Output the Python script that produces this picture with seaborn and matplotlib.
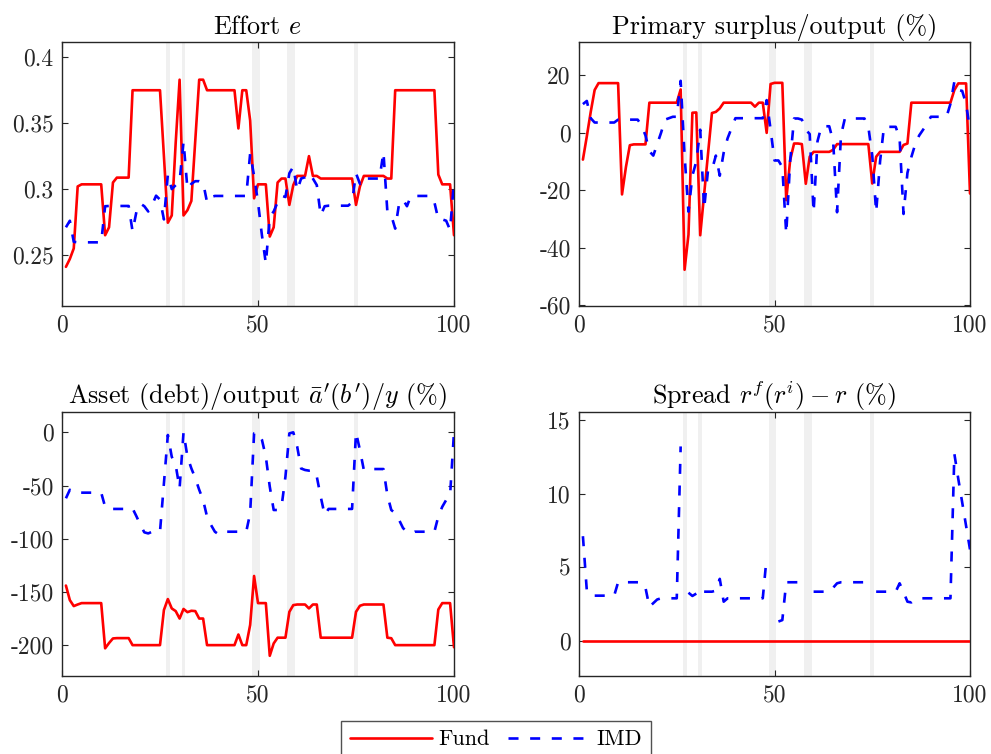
import numpy as np
import pandas as pd
import matplotlib
matplotlib.use("Agg")
import matplotlib.pyplot as plt
import seaborn as sns
from matplotlib.lines import Line2D
from matplotlib.ticker import FuncFormatter

# ---------------- data ----------------
periods = list(range(1, 101))

effort_fund = [0.241, 0.247, 0.255, 0.302, 0.3036, 0.3036, 0.3036, 0.3036, 0.3036, 0.3036,
               0.265, 0.271, 0.305, 0.3087, 0.3087, 0.3087, 0.3087, 0.375, 0.375, 0.375,
               0.375, 0.375, 0.375, 0.375, 0.375, 0.325, 0.2745, 0.280, 0.335, 0.383,
               0.280, 0.284, 0.291, 0.337, 0.383, 0.383, 0.375, 0.375, 0.375, 0.375,
               0.375, 0.375, 0.375, 0.375, 0.346, 0.375, 0.375, 0.352, 0.293, 0.3036,
               0.3036, 0.3036, 0.264, 0.271, 0.305, 0.308, 0.308, 0.288, 0.303, 0.310,
               0.310, 0.310, 0.325, 0.310, 0.310, 0.308, 0.308, 0.308, 0.308, 0.308,
               0.308, 0.308, 0.308, 0.308, 0.288, 0.302, 0.310, 0.310, 0.310, 0.310,
               0.310, 0.310, 0.308, 0.308, 0.375, 0.375, 0.375, 0.375, 0.375, 0.375,
               0.375, 0.375, 0.375, 0.375, 0.375, 0.311, 0.3036, 0.3036, 0.3036, 0.265]

effort_imd = [0.271, 0.276, 0.260, 0.2596, 0.2596, 0.2596, 0.2596, 0.2596, 0.2596, 0.2596,
              0.287, 0.2872, 0.2872, 0.2872, 0.2872, 0.2872, 0.2872, 0.268, 0.283, 0.289,
              0.287, 0.283, 0.288, 0.295, 0.292, 0.277, 0.311, 0.300, 0.303, 0.306,
              0.336, 0.300, 0.304, 0.306, 0.306, 0.305, 0.290, 0.294, 0.2948, 0.2948,
              0.2948, 0.2948, 0.2948, 0.2948, 0.2948, 0.2948, 0.2948, 0.327, 0.310, 0.290,
              0.265, 0.2435, 0.279, 0.283, 0.290, 0.295, 0.294, 0.312, 0.317, 0.299,
              0.308, 0.309, 0.312, 0.308, 0.303, 0.280, 0.287, 0.2874, 0.2874, 0.2874,
              0.2874, 0.2874, 0.2874, 0.290, 0.312, 0.304, 0.309, 0.308, 0.308, 0.308,
              0.308, 0.328, 0.283, 0.280, 0.270, 0.289, 0.292, 0.287, 0.2948, 0.2948,
              0.2948, 0.2948, 0.2948, 0.2948, 0.290, 0.277, 0.277, 0.276, 0.269, 0.306]

surplus_fund = [-9.4, -1.3, 7.2, 14.8, 17.2, 17.2, 17.2, 17.2, 17.2, 17.2,
                -21.5, -12.0, -4.4, -4.1, -4.1, -4.1, -4.1, 10.4, 10.4, 10.4,
                10.4, 10.4, 10.4, 10.4, 10.4, 15.0, -47.7, -35.5, 6.9, 7.0,
                -35.7, -21.5, -7.3, 6.8, 7.2, 8.4, 10.4, 10.4, 10.4, 10.4,
                10.4, 10.4, 10.4, 10.4, 9.0, 10.4, 10.4, -0.1, 16.9, 17.3,
                17.3, 17.3, -23.5, -9.6, -3.8, -3.8, -4.0, -17.8, -8.4, -6.7,
                -6.7, -6.7, -6.7, -6.7, -6.0, -4.0, -4.0, -4.0, -4.0, -4.0,
                -4.0, -4.0, -4.0, -4.0, -17.7, -8.4, -6.7, -6.7, -6.7, -6.7,
                -6.7, -6.7, -4.3, -3.8, 10.4, 10.4, 10.4, 10.4, 10.4, 10.4,
                10.4, 10.4, 10.4, 10.4, 10.4, 14.8, 17.1, 17.1, 17.1, -21.2]

surplus_imd = [9.9, 11.0, 5.0, 3.5, 3.5, 3.5, 3.5, 3.5, 3.5, 4.5,
               4.5, 4.5, 4.5, 4.5, 4.5, 2.5, -1.0, -6.5, -8.0, -4.0,
               0.0, 4.5, 5.0, 5.5, 5.5, 18.0, -8.0, -27.5, -15.0, -10.0,
               1.0, -26.5, -13.0, -13.0, -8.0, -15.0, -7.0, -2.0, 1.5, 5.0,
               5.0, 5.0, 5.0, 5.0, 5.0, 5.0, 5.0, 11.3, 1.0, -9.7,
               -9.7, -12.0, -35.2, -10.0, 4.9, 4.9, 4.5, 1.0, -0.5, -27.7,
               -3.0, 2.2, 2.2, 2.2, -3.0, -27.7, -1.0, 4.9, 4.9, 4.9,
               4.9, 4.9, 4.9, 2.0, -8.0, -27.7, -10.0, 2.0, 2.0, 2.0,
               2.0, -2.0, -28.3, -14.0, -8.5, -4.0, -1.0, 1.0, 3.0, 5.5,
               5.5, 5.5, 5.5, 5.5, 10.0, 17.7, 14.8, 14.5, 10.0, 0.8]

asset_fund = [-144.0, -157.7, -163.3, -161.8, -160.5, -160.5, -160.5, -160.5, -160.5, -160.5,
              -203.0, -198.0, -193.7, -193.4, -193.4, -193.4, -193.4, -200.0, -200.0, -200.0,
              -200.0, -200.0, -200.0, -200.0, -200.0, -167.0, -156.7, -165.5, -168.0, -175.0,
              -166.0, -169.0, -167.7, -168.0, -175.0, -175.0, -200.0, -200.0, -200.0, -200.0,
              -200.0, -200.0, -200.0, -200.0, -190.0, -200.0, -200.0, -181.0, -135.0, -160.5,
              -160.5, -160.5, -210.0, -198.4, -193.0, -193.0, -193.0, -168.7, -162.4, -161.8,
              -161.8, -161.8, -165.5, -161.8, -161.8, -193.0, -193.0, -193.0, -193.0, -193.0,
              -193.0, -193.0, -193.0, -193.0, -168.7, -163.0, -161.8, -161.8, -161.8, -161.8,
              -161.8, -161.8, -193.0, -193.5, -200.0, -200.0, -200.0, -200.0, -200.0, -200.0,
              -200.0, -200.0, -200.0, -200.0, -200.0, -166.5, -160.5, -160.5, -160.5, -202.0]

asset_imd = [-62.0, -54.0, -56.7, -56.7, -56.7, -56.7, -56.7, -56.7, -56.7, -56.7,
             -70.0, -72.0, -72.0, -72.0, -72.0, -72.0, -72.0, -71.5, -79.0, -87.0,
             -94.0, -95.0, -93.4, -93.4, -93.4, -48.0, -2.5, -23.0, -30.7, -52.7,
             0.0, -23.0, -33.9, -43.0, -54.0, -63.6, -79.3, -87.0, -93.4, -96.0,
             -93.4, -93.4, -93.4, -93.4, -93.4, -93.4, -93.4, -76.0, -1.0, 0.0,
             -7.0, -23.0, -51.0, -73.0, -73.0, -70.0, -41.7, -1.0, 0.0, -13.5,
             -34.0, -35.4, -36.0, -35.4, -41.7, -60.5, -77.7, -72.0, -72.0, -72.0,
             -72.0, -72.0, -72.0, -72.0, 0.0, -16.6, -35.4, -35.0, -34.5, -34.5,
             -34.5, -34.5, -59.0, -73.0, -76.0, -82.4, -90.0, -93.4, -95.0, -93.4,
             -93.4, -93.4, -93.4, -93.4, -93.4, -79.0, -70.0, -63.6, -59.0, 0.0]

spread_fund = [0.0] * 100

nan = np.nan
spread_imd = [7.1, 3.4, 3.06, 3.06, 3.06, 3.06, 3.06, 3.06, 3.06, 3.97,
              3.97, 3.97, 3.97, 3.97, 3.97, 3.97, 3.6, 2.3, 2.55, 2.8,
              2.88, 2.88, 2.88, 2.88, 2.88, 13.2, nan, 3.26, 3.04, 3.2,
              nan, 3.33, 3.33, 3.33, 3.4, 4.2, 2.65, 2.88, 2.88, 2.88,
              2.88, 2.88, 2.88, 2.88, 2.88, 2.88, 2.88, 5.7, nan, nan,
              1.3, 1.4, 3.97, 3.97, 3.97, 3.97, 3.97, nan, nan, 3.33,
              3.33, 3.33, 3.33, 3.33, 3.6, 3.9, 3.97, 3.97, 3.97, 3.97,
              3.97, 3.97, 3.97, 3.97, nan, 3.33, 3.33, 3.33, 3.33, 3.33,
              3.33, 3.9, 3.3, 2.65, 2.6, 2.8, 2.88, 2.88, 2.88, 2.88,
              2.88, 2.88, 2.88, 2.88, 2.88, 12.7, 11.0, 9.4, 7.8, 6.2]

crisis_bands = [(26.5, 27.5), (30.5, 31.5), (48.5, 50.5), (57.5, 59.5), (74.5, 75.5)]

titles = [r"Effort $e$",
          r"Primary surplus/output (%)",
          r"Asset (debt)/output $\bar{a}'(b')/y$ (%)",
          r"Spread $r^f(r^i) - r$ (%)"]
yticks_list = [[0.25, 0.3, 0.35, 0.4], [-60, -40, -20, 0, 20],
               [-200, -150, -100, -50, 0], [0, 5, 10, 15]]
ylims = [(0.2113, 0.4116), (-60.3, 31.5), (-229.0, 19.1), (-2.4, 15.54)]
xticks = [0, 50, 100]
legend_labels = ["Fund", "IMD"]

# ---------------- style ----------------
sns.set_theme(style="white")
AX_COLOR = "#262626"
plt.rcParams.update({
    "font.family": "serif",
    "font.serif": ["cmr10", "DejaVu Serif"],
    "mathtext.fontset": "cm",
    "axes.unicode_minus": False,
    "axes.formatter.use_mathtext": False,
    "axes.edgecolor": AX_COLOR,
    "axes.linewidth": 1.0,
    "xtick.color": AX_COLOR,
    "ytick.color": AX_COLOR,
    "text.color": "black",
})

RED = "#FF0000"
BLUE = "#0000FF"
LW = 1.9
DASH = (0, (3.8, 4.4))

fig = plt.figure(figsize=(9.91, 7.54), dpi=100)
positions = [
    [62 / 991, 1 - 306 / 754, (454 - 62) / 991, (306 - 42) / 754],
    [579 / 991, 1 - 306 / 754, (970 - 579) / 991, (306 - 42) / 754],
    [62 / 991, 1 - 676 / 754, (454 - 62) / 991, (676 - 412) / 754],
    [579 / 991, 1 - 676 / 754, (970 - 579) / 991, (676 - 412) / 754],
]

series = [(effort_fund, effort_imd), (surplus_fund, surplus_imd),
          (asset_fund, asset_imd), (spread_fund, spread_imd)]

fmt = FuncFormatter(lambda v, p: "%g" % v)

for i, (pos, (fund, imd)) in enumerate(zip(positions, series)):
    ax = fig.add_axes(pos)
    for a, b in crisis_bands:
        ax.axvspan(a, b, color="#f0f0f0", lw=0, zorder=0)

    df_f = pd.DataFrame({"t": periods, "v": fund})
    imd_arr = np.array(imd, dtype=float)
    seg = np.cumsum(np.isnan(imd_arr))
    df_i = pd.DataFrame({"t": periods, "v": imd_arr, "seg": seg}).dropna()

    sns.lineplot(data=df_f, x="t", y="v", ax=ax, color=RED, lw=LW,
                 estimator=None, legend=False, zorder=3)
    sns.lineplot(data=df_i, x="t", y="v", units="seg", estimator=None, ax=ax,
                 color=BLUE, lw=LW, linestyle=DASH, legend=False, zorder=4)

    ax.set_xlim(0, 100)
    ax.set_ylim(*ylims[i])
    ax.set_xticks(xticks)
    ax.set_yticks(yticks_list[i])
    ax.yaxis.set_major_formatter(fmt)
    ax.xaxis.set_major_formatter(fmt)
    ax.set_xlabel("")
    ax.set_ylabel("")
    ax.tick_params(direction="in", length=4, width=0.8, top=True, right=True,
                   labelsize=17, pad=6, bottom=True, left=True)
    for sp in ax.spines.values():
        sp.set_visible(True)
        sp.set_color(AX_COLOR)
        sp.set_linewidth(1.0)
    ax.set_title(titles[i], fontsize=18.8, pad=6)

handles = [Line2D([], [], color=RED, lw=LW),
           Line2D([], [], color=BLUE, lw=LW, linestyle=DASH)]
leg = fig.legend(handles, legend_labels, loc="upper center",
                 bbox_to_anchor=(496 / 991, 1 - 721 / 754), ncol=2,
                 frameon=True, fancybox=False, fontsize=16, handlelength=3.7,
                 handletextpad=0.3, columnspacing=0.8, borderpad=0.4,
                 borderaxespad=0)
leg.get_frame().set_edgecolor(AX_COLOR)
leg.get_frame().set_linewidth(1.0)

fig.savefig("out.png", dpi=100, facecolor="white")
